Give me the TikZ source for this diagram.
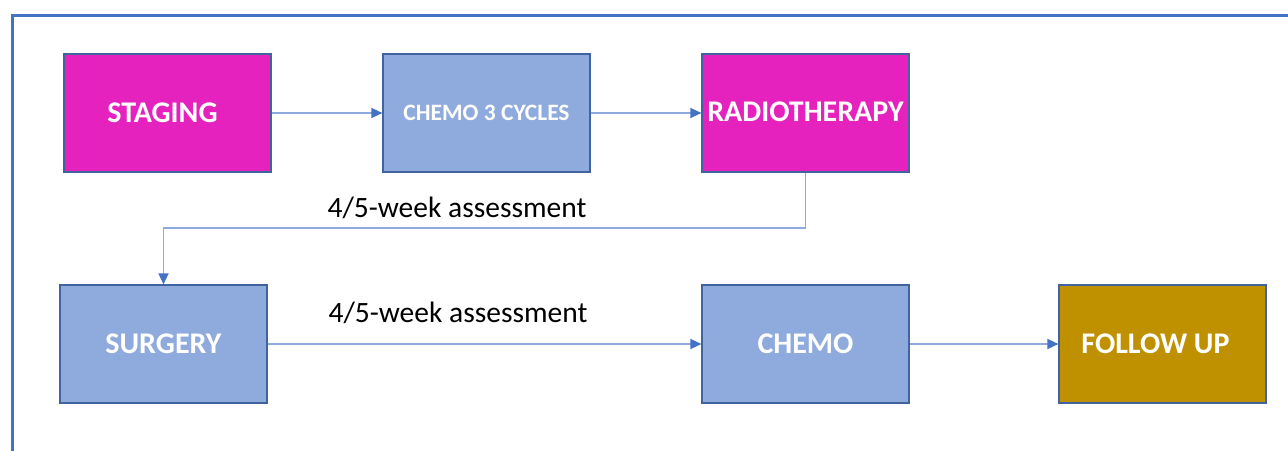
\documentclass[tikz,border=0pt]{standalone}
\usepackage{fontspec}
\setmainfont{Carlito}
\usetikzlibrary{arrows.meta}
\definecolor{framblue}{HTML}{4472C4}
\definecolor{boxblue}{HTML}{8FAADC}
\definecolor{boxline}{HTML}{41649E}
\definecolor{stepmag}{HTML}{E622BE}
\definecolor{stepgold}{HTML}{BF9000}
\begin{document}
\begin{tikzpicture}
  [
  x=1pt, y=-1pt,
  stepbox/.style={rectangle, inner sep=0pt, minimum width=207pt, minimum height=118pt,
    draw=boxline, line width=1.2pt, text=white, font=\fontsize{30}{34}\selectfont\bfseries},
  pinkbox/.style={stepbox, fill=stepmag},
  bluebox/.style={stepbox, fill=boxblue},
  goldbox/.style={stepbox, fill=stepgold},
  flow/.style={draw=boxblue, line width=1.5pt, -{Triangle[length=11pt,width=10pt,color=framblue]}},
  note/.style={font=\fontsize{29.5}{34}\selectfont},
  ]

\useasboundingbox (0,0) rectangle (1288,450);
\clip (0,0) rectangle (1288,450);
\draw[framblue, line width=3pt] (12,470) -- (12,15) -- (1300,15);

\node[pinkbox] (staging) at (167.5,113) {\hspace*{-10pt}STAGING};
\node[bluebox, font=\fontsize{23.5}{27}\selectfont\bfseries] (chemo3) at (486.5,113) {CHEMO 3 CYCLES};
\node[pinkbox] (radio) at (805.5,113) {\raisebox{3pt}{RADIOTHERAPY}};

\node[bluebox] (surgery) at (163.5,344) {SURGERY};
\node[bluebox] (chemo) at (805.5,344) {CHEMO};
\node[goldbox] (follow) at (1162.5,344) {\hspace*{-14pt}FOLLOW UP};

\node[note] (assess1) at (457,208) {4/5-week assessment};
\node[note] (assess2) at (458,313) {4/5-week assessment};

\coordinate (turn) at (0,228);

\draw[flow] (staging) -- (chemo3);
\draw[flow] (chemo3) -- (radio);
\draw[flow] (radio.south) -- (radio.south |- turn) -| (surgery.north);
\draw[flow] (surgery) -- (chemo);
\draw[flow] (chemo) -- (follow);
\end{tikzpicture}
\end{document}
